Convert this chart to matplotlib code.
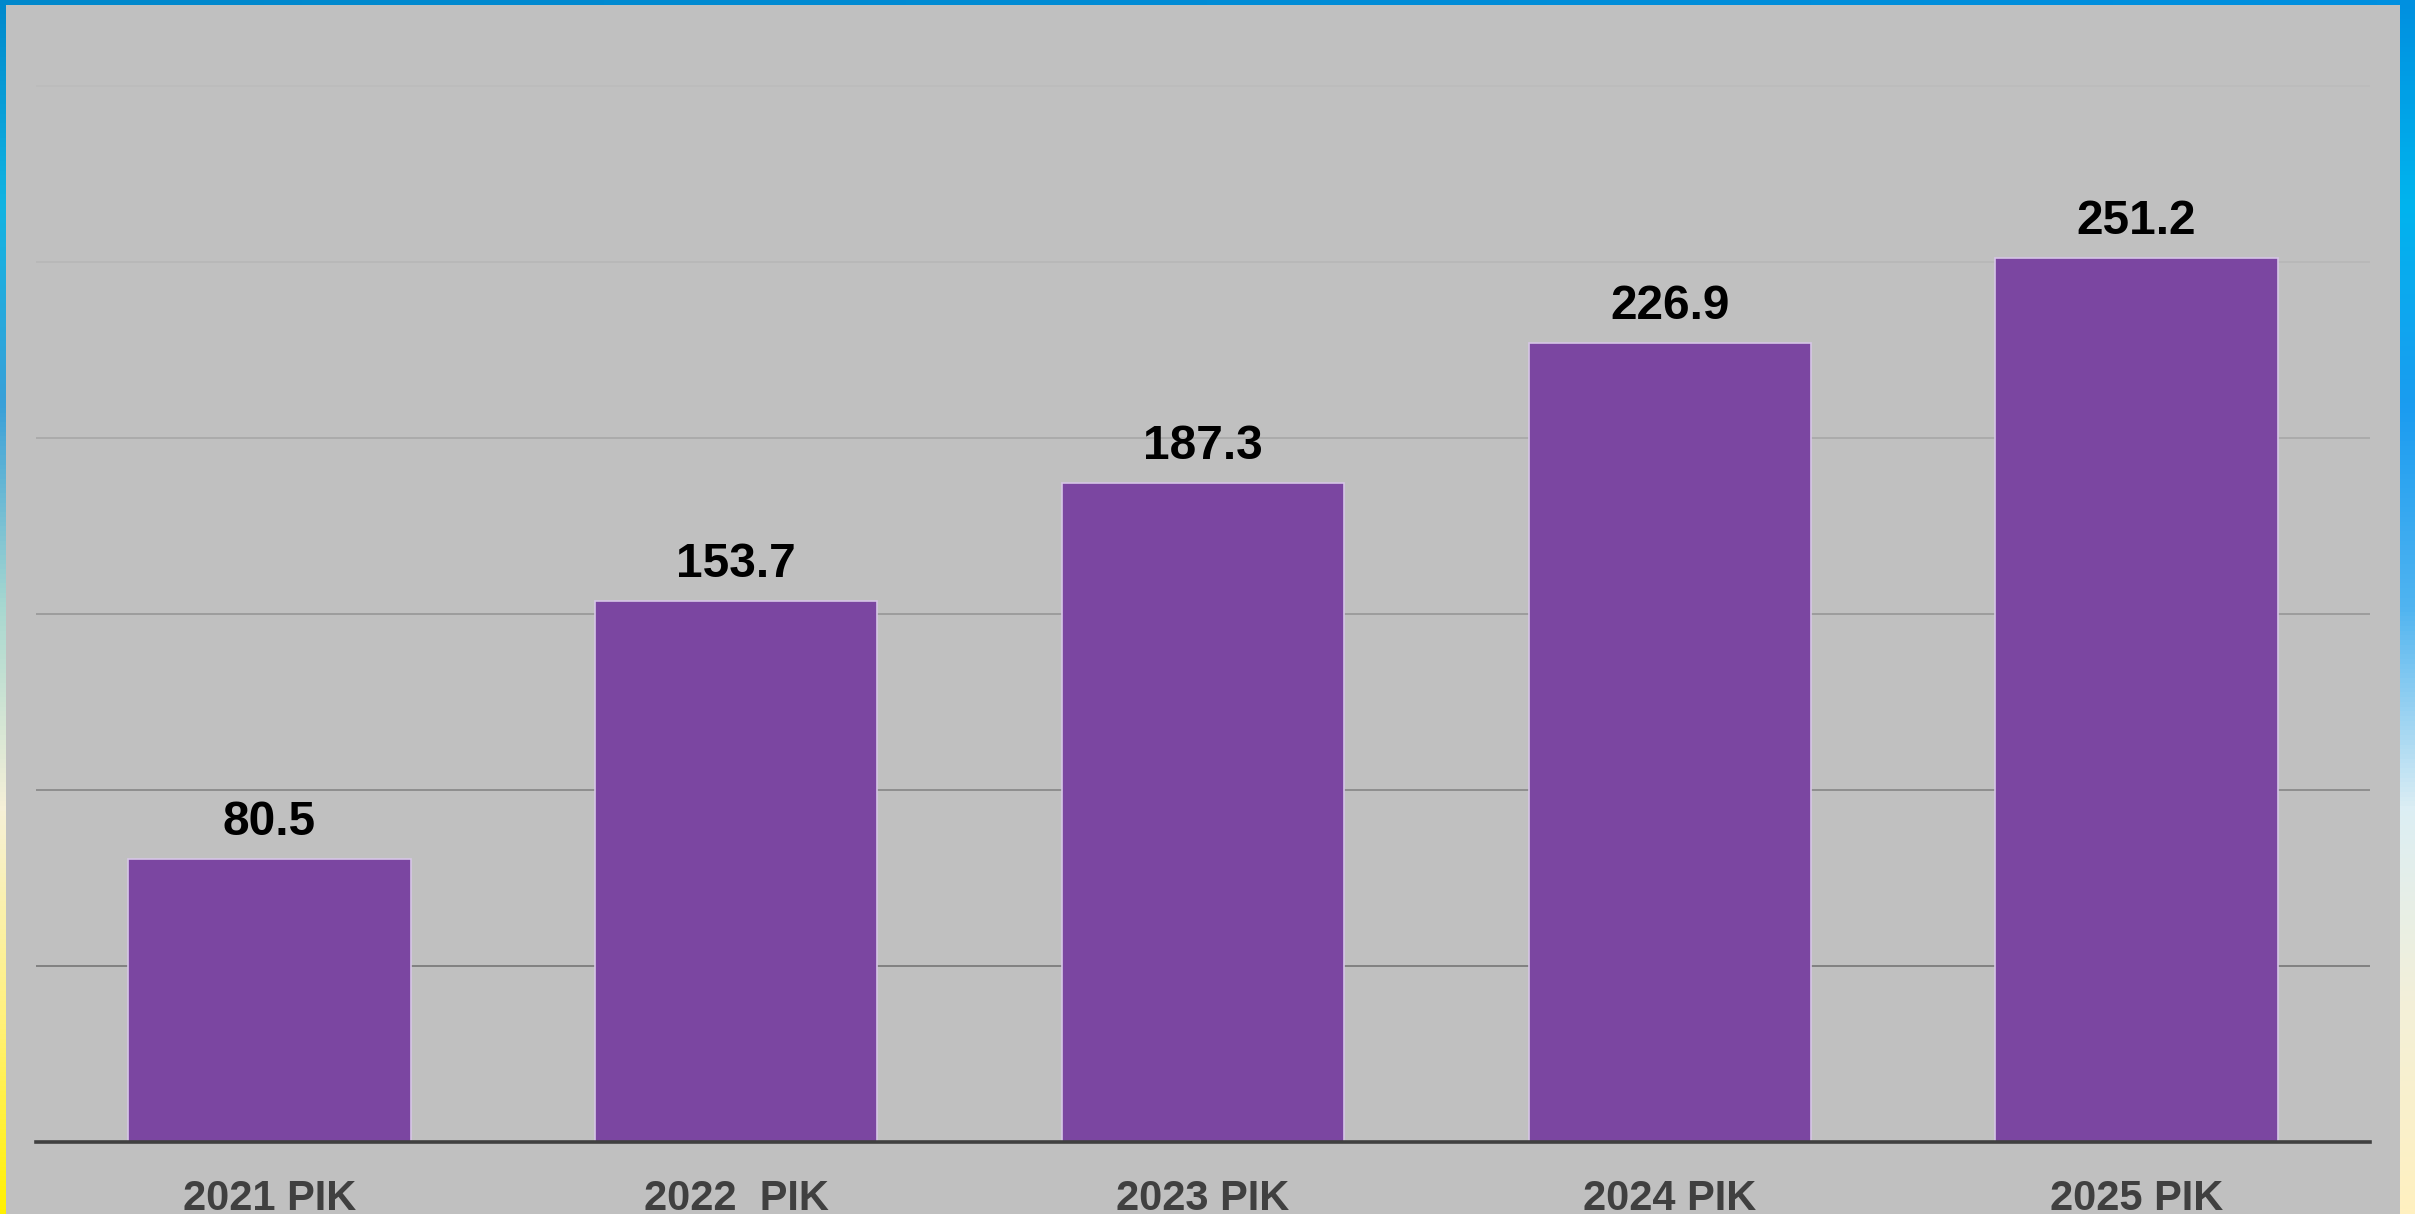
import matplotlib.pyplot as plt
import numpy as np
from matplotlib.colors import LinearSegmentedColormap
from matplotlib.patches import Rectangle

years = ["2021 PIK", "2022  PIK", "2023 PIK", "2024 PIK", "2025 PIK"]
values = [80.5, 153.7, 187.3, 226.9, 251.2]
grid_ticks = [50, 100, 150, 200, 250, 300]

W, H = 2415, 1214
fig = plt.figure(figsize=(W / 100, H / 100), dpi=100)

# backdrop: blue-ish slide gradient showing around the gray panel
bg = fig.add_axes([0, 0, 1, 1])
bg.set_axis_off()
left_cm = LinearSegmentedColormap.from_list(
    "l", ["#0088cc", "#12b4e2", "#3aa0d8", "#a8d8d0", "#f6f0d8", "#fff080", "#fff000"])
right_cm = LinearSegmentedColormap.from_list(
    "r", ["#0090e0", "#00b4ee", "#1a9cf0", "#50b4f0", "#dceef4", "#f4f0d8", "#fff0c0"])
t = np.linspace(0, 1, 256)[:, None]
s = np.linspace(0, 1, 64)[None, :]
img = left_cm(t)[:, :, :3] * (1 - s[..., None]) + right_cm(t)[:, :, :3] * s[..., None]
bg.imshow(img, aspect="auto", extent=[0, 1, 0, 1], origin="upper")
bg.add_patch(Rectangle((6 / W, 0), (2400 - 6) / W, (H - 5) / H,
                       facecolor="#c0c0c0", edgecolor="none", transform=bg.transAxes))
bg.set_xlim(0, 1)
bg.set_ylim(0, 1)

ax = fig.add_axes([36 / W, (H - 1142) / H, (2370 - 36) / W, (1142 - 5) / H])
ax.patch.set_alpha(0)

x = np.arange(len(years))
bars = ax.bar(x, values, width=0.605, color="#7b46a1", edgecolor="#d6c6e6",
              linewidth=1.2, zorder=3)

for xi, v in zip(x, values):
    ax.annotate(f"{v:.1f}", (xi, v), xytext=(0, 10), textcoords="offset points",
                ha="center", va="bottom", fontsize=34.5, fontweight="bold",
                family="Liberation Sans", color="black")

ax.set_xlim(-0.5, len(years) - 0.5)
ax.set_ylim(0, 323)
ax.set_yticks(grid_ticks)
ax.yaxis.grid(True, color="#555555", linewidth=1.1, zorder=0)
ax.set_axisbelow(True)
# grid fades out towards the top
for line, tk in zip(ax.get_ygridlines(), grid_ticks):
    line.set_alpha(max(0.04, 0.75 - (tk - 50) * 0.0033))
ax.tick_params(axis="y", left=False, labelleft=False)
ax.tick_params(axis="x", bottom=False, pad=23)
ax.set_xticks(x)
ax.set_xticklabels(years, fontsize=30, fontweight="bold", family="Liberation Sans",
                   color="#404040")

for side in ["top", "right", "left"]:
    ax.spines[side].set_visible(False)
ax.spines["bottom"].set_color("#404040")
ax.spines["bottom"].set_linewidth(2.6)
ax.spines["bottom"].set_zorder(4)

fig.savefig("out.png", dpi=100)
